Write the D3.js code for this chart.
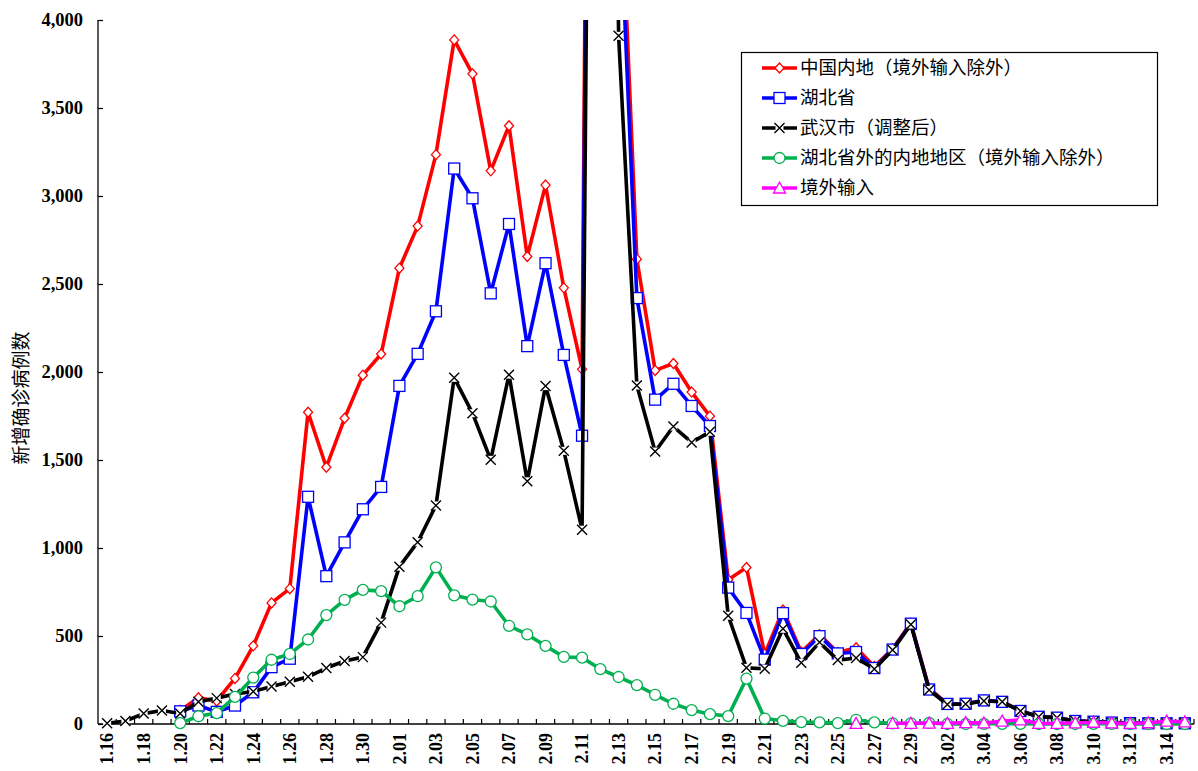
<!DOCTYPE html>
<html><head><meta charset="utf-8">
<script src="https://cdn.jsdelivr.net/npm/d3@7"></script>
<style>body{margin:0;background:#fff}</style>
</head><body><svg id="c" width="1198" height="771"></svg>
<script>
const categories = ["1.16","1.17","1.18","1.19","1.20","1.21","1.22","1.23","1.24","1.25","1.26","1.27","1.28","1.29","1.30","1.31",
"2.01","2.02","2.03","2.04","2.05","2.06","2.07","2.08","2.09","2.10","2.11","2.12","2.13","2.14","2.15","2.16","2.17","2.18","2.19","2.20","2.21","2.22","2.23","2.24","2.25","2.26","2.27","2.28","2.29",
"3.01","3.02","3.03","3.04","3.05","3.06","3.07","3.08","3.09","3.10","3.11","3.12","3.13","3.14","3.15"];
const mainland = [null,null,null,null,77,149,131,259,444,688,769,1771,1459,1737,1982,2102,
2590,2829,3235,3887,3694,3143,3399,2656,3062,2478,2015,15152,5090,2641,2009,2048,1886,1749,820,889,397,648,409,508,406,433,327,427,573,
202,114,115,135,127,75,41,36,17,14,9,5,4,4,4];
const hubei = [null,null,null,null,72,105,69,105,180,323,371,1291,840,1032,1220,1347,
1921,2103,2345,3156,2987,2447,2841,2147,2618,2097,1638,14840,4823,2420,1843,1933,1807,1693,775,631,366,630,398,499,401,409,318,423,570,
196,114,115,134,126,74,41,36,17,13,8,5,4,4,4];
const wuhan = [4,17,59,77,60,127,147,170,185,213,240,268,318,358,380,576,
894,1033,1242,1967,1766,1501,1985,1379,1920,1552,1104,13436,3910,1923,1548,1690,1600,1660,615,319,314,541,348,464,363,375,313,420,565,
193,111,114,131,126,74,41,36,17,13,7,5,4,4,4];
const outsideHubei = [null,null,null,null,5,44,62,154,264,365,398,480,619,705,762,755,
669,726,890,731,707,696,558,509,444,381,377,312,267,221,166,115,79,56,45,258,31,18,11,9,5,24,9,4,3,
6,0,0,1,1,1,0,0,0,1,1,0,0,0,0];
const imported = [null,null,null,null,null,null,null,null,null,null,null,null,null,null,null,null,
null,null,null,null,null,null,null,null,null,null,null,null,null,null,null,null,null,null,null,null,null,null,null,null,null,3,null,4,4,
5,4,8,6,16,24,3,4,6,10,6,3,7,16,12];
const yTicks = [0,500,1000,1500,2000,2500,3000,3500,4000];
const seriesNames = ["中国内地（境外输入除外）","湖北省","武汉市（调整后）","湖北省外的内地地区（境外输入除外）","境外输入"];
const seriesColors = ["#FF0000","#0000FF","#000000","#00B050","#FF00FF"];
const seriesMarkers = ["diamond","square","x","circle","triangle"];
const seriesData = [mainland, hubei, wuhan, outsideHubei, imported];

const svg = d3.select("#c");
const L = 98, R = 1194, T = 20, B = 724;
const x = d3.scaleBand().domain(categories).range([L, R]).paddingInner(0).paddingOuter(0);
const bw = x.bandwidth();
const cx = c => x(c) + bw / 2;
const y = d3.scaleLinear().domain([0, 4000]).range([B, T]);

svg.append("defs").append("clipPath").attr("id","clip").append("rect")
  .attr("x", L - 10).attr("y", T).attr("width", R - L + 20).attr("height", B - T + 12);

// axes
const yAxis = svg.append("g").attr("transform", `translate(${L},0)`)
  .call(d3.axisRight(y).tickValues(yTicks).tickSize(5).tickFormat(""));
yAxis.select(".domain").attr("stroke","#000").attr("stroke-width",1.3).attr("d", `M0,${T}V${B}`);
yAxis.selectAll(".tick line").attr("stroke","#000").attr("stroke-width",1.2);
svg.append("g").selectAll("text").data(yTicks).join("text")
  .attr("x", 83).attr("y", d => y(d)).attr("dy","0.35em").attr("text-anchor","end")
  .attr("font-family","'Liberation Serif','Times New Roman',serif").attr("font-weight","bold")
  .attr("font-size", 18.5).text(d => d3.format(",")(d));

const xAxis = svg.append("g").attr("transform", `translate(0,${B})`)
  .call(d3.axisTop(x).tickSize(0).tickFormat(""));
xAxis.select(".domain").attr("stroke","#000").attr("stroke-width",1.3).attr("d", `M${L},0H${R}`);
xAxis.selectAll(".tick").remove();
svg.append("g").selectAll("line").data(categories.slice(1).concat(["end"])).join("line")
  .attr("x1", d => d === "end" ? R : x(d)).attr("x2", d => d === "end" ? R : x(d))
  .attr("y1", B).attr("y2", B - 5).attr("stroke","#000").attr("stroke-width",1.2);
svg.append("g").selectAll("text").data(categories.filter((c,i) => i % 2 === 0)).join("text")
  .attr("transform", d => `translate(${cx(d)},${B + 9}) rotate(-90)`)
  .attr("dy","0.35em").attr("text-anchor","end")
  .attr("font-family","'Liberation Serif','Times New Roman',serif").attr("font-weight","bold")
  .attr("font-size", 18).text(d => d);

svg.append("text").attr("transform", `translate(21,${(T+B)/2 + 26}) rotate(-90)`)
  .attr("text-anchor","middle").attr("dy","0.35em")
  .attr("font-family","'Noto Sans CJK SC',sans-serif").attr("font-size",19).text("新增确诊病例数");

function drawMarker(g, type, color) {
  if (type === "diamond") {
    g.append("path").attr("d","M0,-5L4.5,0L0,5L-4.5,0Z").attr("fill","#fff").attr("stroke",color).attr("stroke-width",1.3);
  } else if (type === "square") {
    g.append("rect").attr("x",-5.5).attr("y",-5.5).attr("width",11).attr("height",11).attr("fill","#fff").attr("stroke",color).attr("stroke-width",1.3);
  } else if (type === "x") {
    g.append("rect").attr("x",-4).attr("y",-4).attr("width",8).attr("height",8).attr("fill","#fff");
    g.append("path").attr("d","M-5,-5L5,5M-5,5L5,-5").attr("stroke",color).attr("stroke-width",1.4);
  } else if (type === "circle") {
    g.append("circle").attr("r",5.5).attr("fill","#fff").attr("stroke",color).attr("stroke-width",1.3);
  } else if (type === "triangle") {
    g.append("path").attr("d","M0,-6L6,5L-6,5Z").attr("fill","#fff").attr("stroke",color).attr("stroke-width",1.3);
  }
}

const plot = svg.append("g").attr("clip-path","url(#clip)");
const line = d3.line().defined(d => d.v != null).x(d => cx(d.c)).y(d => y(d.v));
seriesData.forEach((arr, si) => {
  const pts = arr.map((v, i) => ({c: categories[i], v}));
  const g = plot.append("g");
  g.append("path").datum(pts).attr("d", line).attr("fill","none")
    .attr("stroke", seriesColors[si]).attr("stroke-width", 3.6).attr("stroke-linejoin","round");
  pts.filter(p => p.v != null).forEach(p => {
    const m = g.append("g").attr("transform", `translate(${cx(p.c)},${y(p.v)})`);
    drawMarker(m, seriesMarkers[si], seriesColors[si]);
  });
});

// legend
const lg = svg.append("g");
lg.append("rect").attr("x",741.5).attr("y",52.5).attr("width",416).attr("height",153)
  .attr("fill","#fff").attr("stroke","#000").attr("stroke-width",1.2);
seriesNames.forEach((n, i) => {
  const yy = 68 + i * 30;
  lg.append("line").attr("x1",762).attr("x2",797).attr("y1",yy).attr("y2",yy)
    .attr("stroke", seriesColors[i]).attr("stroke-width",3.6);
  const m = lg.append("g").attr("transform", `translate(779.5,${yy})`);
  drawMarker(m, seriesMarkers[i], seriesColors[i]);
  lg.append("text").attr("x",800).attr("y",yy).attr("dy","0.35em")
    .attr("font-family","'Noto Sans CJK SC',sans-serif").attr("font-size",18.5).text(n);
});
</script></body></html>
